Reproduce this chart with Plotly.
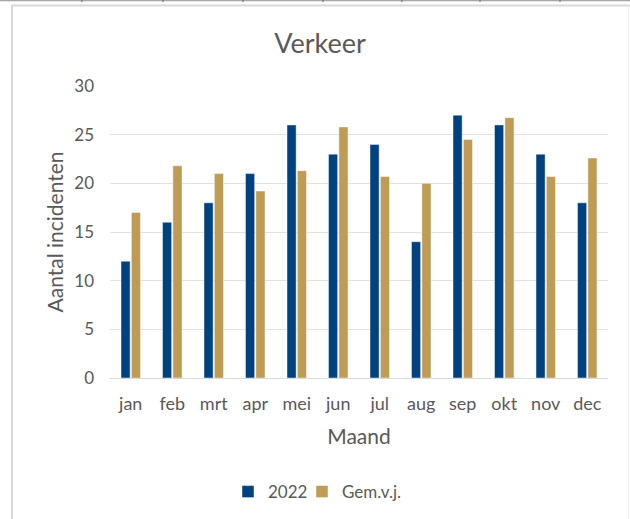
import plotly.graph_objects as go

# Monthly traffic incidents: 2022 versus the average of previous years
months = ["jan", "feb", "mrt", "apr", "mei", "jun", "jul", "aug", "sep", "okt", "nov", "dec"]
incidents_2022 = [12, 16, 18, 21, 26, 23, 24, 14, 27, 26, 23, 18]
avg_prev_years = [17.0, 21.8, 21.0, 19.2, 21.3, 25.8, 20.7, 20.0, 24.5, 26.75, 20.7, 22.6]
y_ticks = [0, 5, 10, 15, 20, 25, 30]

BLUE = "#00427F"
GOLD = "#BF9C56"
TEXT = "#595959"
GRID = "#E1E1E1"
FONT = "Lato, 'Open Sans', sans-serif"

fig = go.Figure()
fig.add_trace(go.Bar(
    x=months, y=incidents_2022, name="2022", legend="legend",
    marker=dict(color=BLUE, line=dict(color="rgba(255,255,255,0.45)", width=1)),
))
fig.add_trace(go.Bar(
    x=months, y=avg_prev_years, name="Gem.v.j.", legend="legend2",
    marker=dict(color=GOLD, line=dict(color="rgba(255,255,255,0.45)", width=1)),
))

W, H = 630, 519
legend_style = dict(orientation="h", xref="container", xanchor="left",
                    y=1 - 492 / H, yref="container", yanchor="middle",
                    bgcolor="rgba(0,0,0,0)",
                    font=dict(size=17, color=TEXT), itemwidth=30)
fig.update_layout(
    width=W, height=H,
    margin=dict(l=110, r=22, t=86, b=141),
    paper_bgcolor="white", plot_bgcolor="white",
    font=dict(family=FONT, size=17, color=TEXT),
    barmode="group", bargap=0.5, bargroupgap=0.12,
    showlegend=True,
    title=dict(text="Verkeer", x=320 / W, xref="container", xanchor="center",
               y=1 - 44 / H, yref="container", yanchor="middle",
               font=dict(size=27, color=TEXT)),
    legend=dict(x=228 / W, **legend_style),
    legend2=dict(x=302 / W, **legend_style),
)

fig.update_xaxes(
    showgrid=False, showline=True, linecolor="#D9D9D9", linewidth=1,
    ticks="", tickfont=dict(size=18, color=TEXT), ticklabelstandoff=9,
    title=dict(text="Maand", font=dict(size=21, color=TEXT), standoff=16),
)
fig.update_yaxes(
    range=[0, 30], tickvals=y_ticks, showgrid=True, gridcolor=GRID, gridwidth=1,
    zeroline=False, showline=False, ticks="",
    tickfont=dict(size=17, color=TEXT), ticklabelstandoff=15,
    title=dict(text="Aantal incidenten", font=dict(size=21, color=TEXT), standoff=4),
)

# frame around the chart and the page rule above it, placed in pixels
pl, pr, pt, pb = 110, 608, 86, 378
def px(x):
    return (x - pl) / (pr - pl)
def py(y):
    return (pb - y) / (pb - pt)

frame = [
    dict(type="line", xref="paper", yref="paper", x0=px(12), x1=px(12), y0=py(5), y1=py(H + 5),
         line=dict(color="#D9D9D9", width=2)),
    dict(type="line", xref="paper", yref="paper", x0=px(11), x1=px(W + 2), y0=py(5.5), y1=py(5.5),
         line=dict(color="#D9D9D9", width=2)),
    dict(type="line", xref="paper", yref="paper", x0=px(628.5), x1=px(628.5), y0=py(5), y1=py(H + 5),
         line=dict(color="#EEEEEE", width=1)),
    dict(type="line", xref="paper", yref="paper", x0=px(-5), x1=px(W + 5), y0=py(0.5), y1=py(0.5),
         line=dict(color="#A6A6A6", width=1.5)),
]
for tx in [82, 163, 243, 323, 402, 480, 560]:
    frame.append(dict(type="line", xref="paper", yref="paper", x0=px(tx), x1=px(tx),
                      y0=py(0), y1=py(2), line=dict(color="#606060", width=1)))
fig.update_layout(shapes=frame)

fig.write_html("out.html")
